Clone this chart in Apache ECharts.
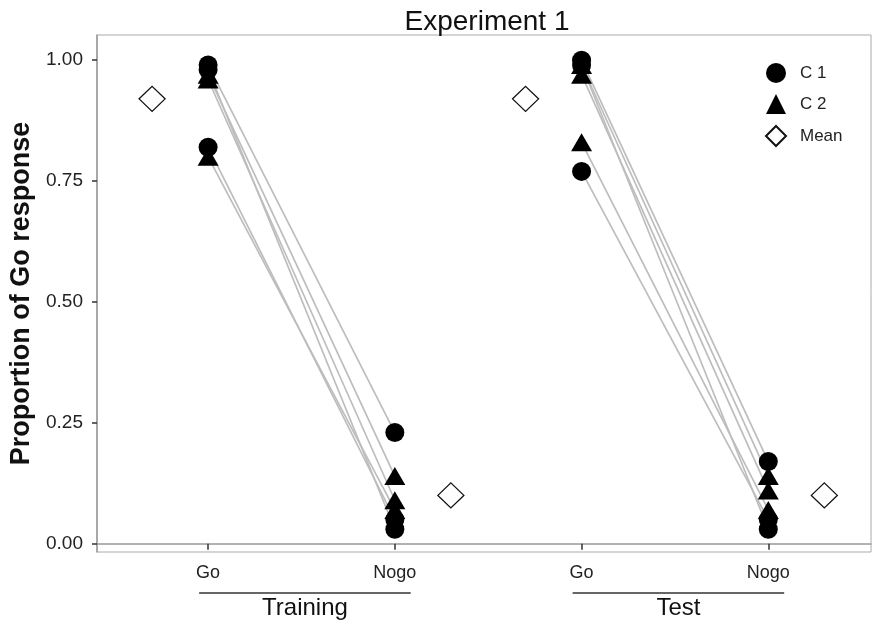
<!DOCTYPE html>
<html>
<head>
<meta charset="utf-8">
<script src="https://cdn.jsdelivr.net/npm/echarts@6/dist/echarts.min.js"></script>
<style>
html,body{margin:0;padding:0;background:#fff;}
#chart{width:872px;height:621px;}
</style>
</head>
<body>
<div id="chart"></div>
<script>
// ---- data ----
const titleText = 'Experiment 1';
const yAxisName = 'Proportion of Go response';
const tickPositions = [1, 2, 3, 4];
const tickLabels = ['Go', 'Nogo', 'Go', 'Nogo'];
const groupLabels = ['Training', 'Test'];
const yTicks = [0, 0.25, 0.5, 0.75, 1];
const seriesNames = ['C 1', 'C 2', 'Mean'];

// per-subject values (Go, Nogo) per phase
const c1TrainGo   = [0.99, 0.98, 0.82];
const c1TrainNogo = [0.23, 0.03, 0.05];
const c2TrainGo   = [0.97, 0.96, 0.80];
const c2TrainNogo = [0.14, 0.09, 0.07];
const c1TestGo    = [1.00, 0.99, 0.77];
const c1TestNogo  = [0.17, 0.03, 0.05];
const c2TestGo    = [0.99, 0.97, 0.83];
const c2TestNogo  = [0.14, 0.11, 0.07];
const meanValues  = [0.92, 0.10, 0.92, 0.10];

// ---- layout constants ----
const meanOffset = [-0.3, 0.3, -0.3, 0.3];
const FONT = '"Liberation Sans", Arial, Helvetica, sans-serif';

const chart = echarts.init(document.getElementById('chart'));

function pairs(go, nogo, xGo, xNogo) {
  return go.map((g, i) => [[xGo, g], [xNogo, nogo[i]]]);
}
const linesC1 = pairs(c1TrainGo, c1TrainNogo, 1, 2).concat(pairs(c1TestGo, c1TestNogo, 3, 4));
const linesC2 = pairs(c2TrainGo, c2TrainNogo, 1, 2).concat(pairs(c2TestGo, c2TestNogo, 3, 4));

const lineSeries = linesC1.concat(linesC2).map(d => ({
  type: 'line', data: d, symbol: 'none', silent: true, z: 1,
  lineStyle: { color: '#bdbdbd', width: 1.7 }
}));

const c1Points = [].concat(
  c1TrainGo.map(v => [1, v]), c1TrainNogo.map(v => [2, v]),
  c1TestGo.map(v => [3, v]), c1TestNogo.map(v => [4, v]));
const c2Points = [].concat(
  c2TrainGo.map(v => [1, v]), c2TrainNogo.map(v => [2, v]),
  c2TestGo.map(v => [3, v]), c2TestNogo.map(v => [4, v]));
const meanPoints = meanValues.map((v, i) => [tickPositions[i] + meanOffset[i], v]);

const option = {
  animation: false,
  backgroundColor: '#fff',
  title: {
    text: titleText, left: 482, top: 3, textAlign: 'center',
    textStyle: { fontFamily: FONT, fontSize: 28, fontWeight: 'normal', color: '#111' }
  },
  legend: {
    orient: 'vertical', left: 760, top: 58, itemWidth: 20, itemHeight: 20, itemGap: 11,
    data: seriesNames,
    textStyle: { fontFamily: FONT, fontSize: 17, color: '#222', padding: [0, 0, 0, 9] }
  },
  grid: { left: 94, top: 35, right: 1, bottom: 69, show: true, borderColor: '#aaa', borderWidth: 1 },
  xAxis: {
    type: 'value', min: 0.405, max: 4.55,
    axisLine: { show: true, lineStyle: { color: '#999', width: 1.5 } },
    axisTick: { show: true, customValues: tickPositions, length: 6, lineStyle: { color: '#333', width: 1.5 } },
    axisLabel: {
      customValues: tickPositions, margin: 12,
      formatter: v => tickLabels[tickPositions.indexOf(Math.round(v))] || '',
      fontFamily: FONT, fontSize: 18, color: '#222'
    },
    splitLine: { show: false }
  },
  yAxis: {
    type: 'value', min: -0.017, max: 1.052,
    name: yAxisName, nameLocation: 'middle', nameGap: 62,
    nameTextStyle: { fontFamily: FONT, fontSize: 27, fontWeight: 'bold', color: '#111' },
    axisLine: { show: true, lineStyle: { color: '#999', width: 1.5 } },
    axisTick: { show: true, customValues: yTicks, length: 5, lineStyle: { color: '#333', width: 1.5 } },
    axisLabel: {
      customValues: yTicks, margin: 14,
      formatter: v => v.toFixed(2),
      fontFamily: FONT, fontSize: 19, color: '#222'
    },
    splitLine: { show: false }
  },
  series: lineSeries.concat([
    { name: seriesNames[0], type: 'scatter', symbol: 'circle', symbolSize: 19, z: 3,
      itemStyle: { color: '#000', opacity: 1 }, data: c1Points },
    { name: seriesNames[1], type: 'scatter', symbol: 'triangle', symbolSize: [21, 18], z: 3,
      itemStyle: { color: '#000', opacity: 1 }, data: c2Points },
    { name: seriesNames[2], type: 'scatter', symbol: 'diamond', symbolSize: [26, 25], z: 3,
      itemStyle: { color: '#fff', borderColor: '#111', borderWidth: 1.3, opacity: 1 }, data: meanPoints }
  ])
};
chart.setOption(option);

// group labels under the x axis, positioned through the axis scale
const groups = [[1, 2], [3, 4]];
const graphics = [];
groups.forEach((g, i) => {
  const a = chart.convertToPixel({ gridIndex: 0 }, [g[0] - 0.048, 0]);
  const b = chart.convertToPixel({ gridIndex: 0 }, [g[1] + 0.085, 0]);
  const y = 593;
  graphics.push({ type: 'line', shape: { x1: a[0], y1: y, x2: b[0], y2: y },
    style: { stroke: '#333', lineWidth: 1.5 } });
  graphics.push({ type: 'text', x: (a[0] + b[0]) / 2, y: 608,
    style: { text: groupLabels[i], fontFamily: FONT, fontSize: 24, fill: '#111',
      textAlign: 'center', textVerticalAlign: 'middle' } });
});
chart.setOption({ graphic: graphics });
</script>
</body>
</html>
